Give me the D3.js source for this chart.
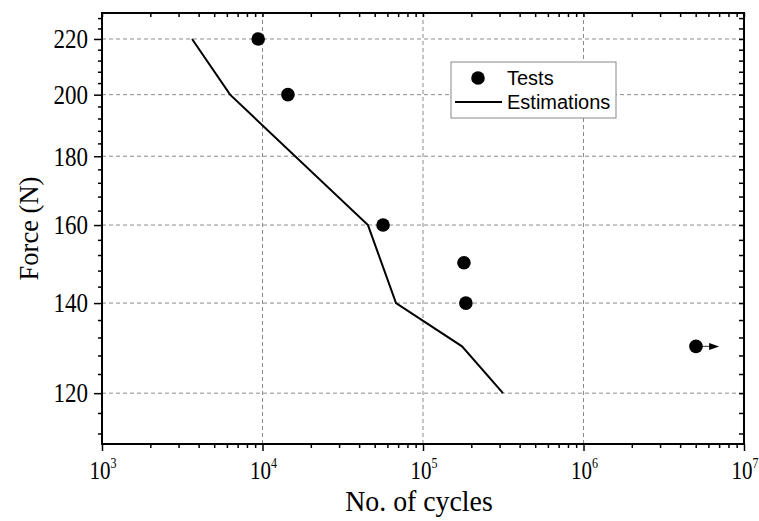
<!DOCTYPE html>
<html lang="en">
<head>
  <meta charset="UTF-8">
  <title>Force vs No. of cycles</title>
  <style>
    body { margin: 0; background: #fff; }
  </style>
</head>
<body>
  <div id="chart"></div>
  <script src="https://d3js.org/d3.v7.min.js"></script>
  <script>

  // test results (cycles, force)
  const testCycles = [9400, 14400, 56400, 180000, 185000, 5020000];
  const testForce  = [220, 200, 160, 150, 140, 130];
  // run-out arrow for the last test
  const runoutTo = 7000000;

  // estimated curve
  const estCycles = [3640, 6280, 45400, 67900, 175000, 315000];
  const estForce  = [220, 200, 160, 140, 130, 120];

  const yTicks = [120, 140, 160, 180, 200, 220];
  const xTicks = [1e3, 1e4, 1e5, 1e6, 1e7];

  const width = 759, height = 521;
  const margin = {top: 13, left: 102, right: 15, bottom: 77};
  const serif = "'Liberation Serif', 'Times New Roman', serif";

  const svg = d3.select("#chart").append("svg")
      .attr("width", width)
      .attr("height", height);

  const x = d3.scaleLog()
      .domain([1e3, 1e7])
      .range([margin.left, width - margin.right]);

  const y = d3.scaleLog()
      .domain([110, 230])
      .range([height - margin.bottom, margin.top]);

  // minor ticks
  const yMinor = d3.range(112, 230, 4).filter(v => v % 20 !== 0);
  const xMinor = [];
  for (let e = 3; e < 7; e++) {
    for (let m = 2; m <= 9; m++) xMinor.push(m * Math.pow(10, e));
  }

  // grid lines
  const grid = svg.append("g")
      .attr("stroke", "#8a8a8a")
      .attr("stroke-width", 1)
      .attr("stroke-dasharray", "4,3");
  grid.selectAll(".hg").data(yTicks).enter().append("line")
      .attr("x1", x.range()[0]).attr("x2", x.range()[1])
      .attr("y1", d => y(d)).attr("y2", d => y(d));
  grid.selectAll(".vg").data([1e4, 1e5, 1e6]).enter().append("line")
      .attr("y1", y.range()[0]).attr("y2", y.range()[1])
      .attr("x1", d => x(d)).attr("x2", d => x(d));

  // axes (ticks only, labels drawn below)
  function tickAxis(axis, vals, size, transform) {
    const g = svg.append("g")
        .attr("transform", transform)
        .call(axis.tickValues(vals).tickSize(size).tickFormat(""));
    g.select(".domain").remove();
    g.selectAll("text").remove();
    g.selectAll("line").attr("stroke", "#000").attr("stroke-width", 1.5);
    return g;
  }
  const bottomY = y.range()[0], topY = y.range()[1];
  const leftX = x.range()[0], rightX = x.range()[1];

  tickAxis(d3.axisLeft(y), yTicks, 8, `translate(${leftX},0)`);
  tickAxis(d3.axisLeft(y), yMinor, 4, `translate(${leftX},0)`);
  tickAxis(d3.axisLeft(y), yTicks.concat(yMinor), 5, `translate(${rightX},0)`);
  tickAxis(d3.axisBottom(x), xTicks, 7, `translate(0,${bottomY})`);
  tickAxis(d3.axisBottom(x), xMinor, 4, `translate(0,${bottomY})`);
  tickAxis(d3.axisBottom(x), xTicks.concat(xMinor), 4, `translate(0,${topY})`);

  // frame
  svg.append("rect")
      .attr("x", leftX).attr("y", topY)
      .attr("width", rightX - leftX).attr("height", bottomY - topY)
      .attr("fill", "none").attr("stroke", "#000").attr("stroke-width", 2);

  // y tick labels
  svg.append("g").attr("class", "ylab")
    .selectAll("text").data(yTicks).enter().append("text")
      .attr("transform", d => `translate(88,${y(d)}) scale(1,1.15)`)
      .attr("dy", "0.35em")
      .attr("text-anchor", "end")
      .attr("font-family", serif)
      .attr("font-size", 23)
      .text(d => d);

  // x tick labels (10^n)
  const xl = svg.append("g").attr("class", "xlab")
    .selectAll("text").data(xTicks).enter().append("text")
      .attr("transform", d => `translate(${x(d) + 1},479) scale(1,1.2)`)
      .attr("text-anchor", "middle")
      .attr("font-family", serif)
      .attr("font-size", 21);
  xl.append("tspan").attr("font-size", 21).text("10");
  xl.append("tspan")
      .attr("dy", -9)
      .attr("font-size", 12)
      .text(d => Math.round(Math.log10(d)));

  // axis titles
  svg.append("text")
      .attr("transform", `translate(419,511) scale(1.03,1.1)`)
      .attr("text-anchor", "middle")
      .attr("font-family", serif)
      .attr("font-size", 27)
      .text("No. of cycles");

  svg.append("text")
      .attr("transform", `translate(38,${(topY + bottomY) / 2}) rotate(-90)`)
      .attr("text-anchor", "middle")
      .attr("font-family", serif)
      .attr("font-size", 26.5)
      .text("Force (N)");

  // estimation line
  const est = estCycles.map((c, i) => [c, estForce[i]]);
  svg.append("path")
      .datum(est)
      .attr("fill", "none")
      .attr("stroke", "#000")
      .attr("stroke-width", 2)
      .attr("d", d3.line().x(d => x(d[0])).y(d => y(d[1])));

  // run-out arrow
  const last = testCycles.length - 1;
  const ay = y(testForce[last]);
  svg.append("line")
      .attr("x1", x(testCycles[last])).attr("x2", x(runoutTo) - 9)
      .attr("y1", ay).attr("y2", ay)
      .attr("stroke", "#555").attr("stroke-width", 1.2);
  svg.append("path")
      .attr("d", `M${x(runoutTo)},${ay} L${x(runoutTo) - 10},${ay - 3.5} L${x(runoutTo) - 10},${ay + 3.5} Z`)
      .attr("fill", "#000");

  // test points
  svg.append("g").selectAll("circle").data(testCycles).enter().append("circle")
      .attr("cx", d => x(d))
      .attr("cy", (d, i) => y(testForce[i]))
      .attr("r", 6.8)
      .attr("fill", "#000");

  // legend
  const lg = svg.append("g").attr("transform", "translate(451,62)");
  lg.append("rect")
      .attr("width", 165).attr("height", 56)
      .attr("fill", "#fff").attr("stroke", "#888").attr("stroke-width", 1);
  lg.append("circle").attr("cx", 27).attr("cy", 16).attr("r", 6.8).attr("fill", "#000");
  lg.append("line").attr("x1", 4).attr("x2", 51).attr("y1", 40).attr("y2", 40)
      .attr("stroke", "#000").attr("stroke-width", 2);
  lg.selectAll(".lt").data(["Tests", "Estimations"]).enter().append("text")
      .attr("x", 56)
      .attr("y", (d, i) => 23 + i * 24)
      .attr("font-family", "'Liberation Sans', Arial, sans-serif")
      .attr("font-size", 20)
      .text(d => d);

  </script>
</body>
</html>
